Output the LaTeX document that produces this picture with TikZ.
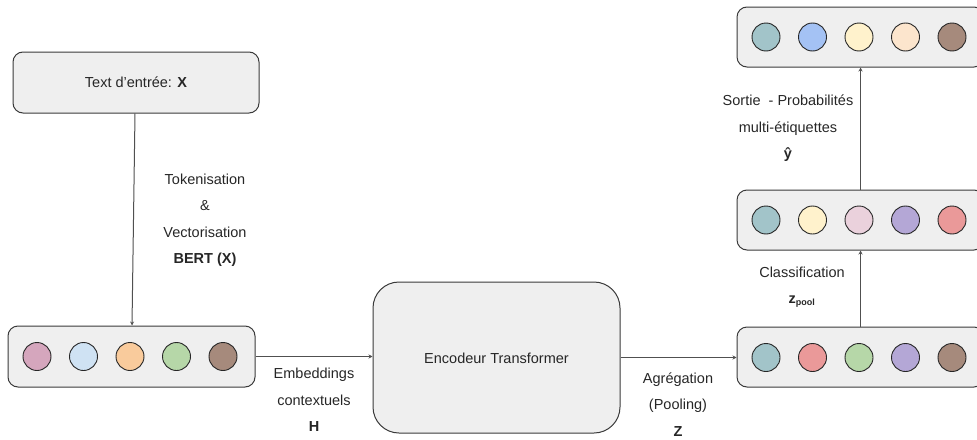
\documentclass[tikz,border=0pt]{standalone}
\usepackage{fontspec}
\setmainfont{Liberation Sans}
\usetikzlibrary{arrows.meta}
\definecolor{boxfill}{HTML}{EFEFEF}
\definecolor{boxdraw}{HTML}{3A3A3A}
\definecolor{linec}{HTML}{505050}
\definecolor{cpink}{HTML}{D5A6BD}
\definecolor{clblue}{HTML}{CFE2F3}
\definecolor{corange}{HTML}{F9CB9C}
\definecolor{cgreen}{HTML}{B6D7A8}
\definecolor{cbrown}{HTML}{A68A7C}
\definecolor{cteal}{HTML}{A2C4C9}
\definecolor{cred}{HTML}{EA9999}
\definecolor{cpurple}{HTML}{B4A7D6}
\definecolor{cyellow}{HTML}{FFF2CC}
\definecolor{clpink}{HTML}{EAD1DC}
\definecolor{cblue}{HTML}{A4C2F4}
\definecolor{cpeach}{HTML}{FCE5CD}
\tikzset{
  box/.style={draw=boxdraw, fill=boxfill, line width=1pt, rounded corners=10pt, inner sep=0pt},
  bigbox/.style={box, rounded corners=26pt},
  dot/.style={circle, draw=black!85, line width=0.9pt, minimum size=28pt, inner sep=0pt},
  arr/.style={draw=linec, line width=1pt, -{Stealth[length=4pt,width=4pt]}},
  lbl/.style={align=center, font=\fontsize{14.5}{26.5}\selectfont, text=black!85, inner sep=0pt},
}
\begin{document}
\begin{tikzpicture}[x=1pt,y=-1pt]
\useasboundingbox (0,0) rectangle (977,439);
% boxes
\node[box, minimum width=246pt, minimum height=61pt] (input) at (136,82.5) {};
\node[lbl] (inputtxt) at (136,82.5) {Text d’entrée: \textbf{X}};
\node[box, minimum width=247pt, minimum height=61pt] (emb) at (131.5,356.5) {};
\node[bigbox, minimum width=247pt, minimum height=151pt] (enc) at (496.5,357.5) {};
\node[lbl] (enctxt) at (496.5,358) {Encodeur Transformer};
\node[box, minimum width=247pt, minimum height=60pt] (pool) at (860.5,357) {};
\node[box, minimum width=247pt, minimum height=60pt] (cls) at (860.5,220) {};
\node[box, minimum width=247pt, minimum height=60pt] (out) at (860.5,37) {};
% circles
\foreach \c [count=\i] in {cpink,clblue,corange,cgreen,cbrown}
  \node[dot, fill=\c] (e\i) at ({37+46.5*(\i-1)},356.5) {};
\foreach \c [count=\i] in {cteal,cred,cgreen,cpurple,cbrown}
  \node[dot, fill=\c] (p\i) at ({766+46.5*(\i-1)},357.5) {};
\foreach \c [count=\i] in {cteal,cyellow,clpink,cpurple,cred}
  \node[dot, fill=\c] (c\i) at ({766+46.5*(\i-1)},220) {};
\foreach \c [count=\i] in {cteal,cblue,cyellow,cpeach,cbrown}
  \node[dot, fill=\c] (o\i) at ({766+46.5*(\i-1)},37) {};
% connectors
\draw[arr] ([xshift=-1pt]input.south) -- ([xshift=0.5pt]emb.north);
\draw[arr] (emb.east) -- (emb.east -| enc.west);
\draw[arr] (enc.east) -- (enc.east -| pool.west);
\draw[arr] (pool.north) -- (cls.south);
\draw[arr] (cls.north) -- (out.south);
% labels
\node[lbl] (l1) at (205,220) {Tokenisation\\\&\\Vectorisation\\\textbf{BERT (X)}};
\node[lbl] (l2) at (314,400) {Embeddings\\contextuels\\\textbf{H}};
\node[lbl] (l3) at (678,404.5) {Agrégation\\(Pooling)\\\textbf{Z}};
\node[lbl] (l4) at (802,272) {Classification};
\node[lbl] (l5) at (802,302) {\textbf{z\textsubscript{\fontsize{9}{10}\selectfont pool}}};
\node[lbl] (l6) at (788,128.5) {Sortie\ \ - Probabilités\\multi-étiquettes\\\textbf{ŷ}};
\end{tikzpicture}
\end{document}
